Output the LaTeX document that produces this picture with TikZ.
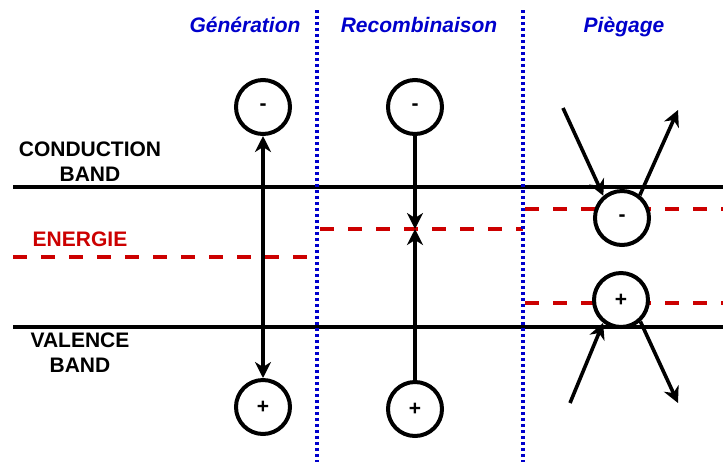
\documentclass[tikz,border=0pt]{standalone}
\usepackage{fontspec}
\setmainfont{Liberation Sans}
\usepackage{tikz}
\usetikzlibrary{arrows.meta}
\definecolor{phaseblue}{RGB}{0,0,204}
\definecolor{levelred}{RGB}{204,0,0}
\tikzset{
	charge/.style={circle, draw, fill=white, line width=2pt, minimum size=27pt, inner sep=0pt, font=\bfseries\fontsize{10.5}{12}\selectfont},
	band/.style={line width=2pt},
	level/.style={levelred, line width=2pt, dash pattern=on 7pt off 7pt},
	sep/.style={phaseblue, line width=1.6pt, dash pattern=on 1.5pt off 1.5pt},
	carrier/.style={line width=1.8pt, >={Stealth[length=8pt, width=8pt, inset=2.5pt]}},
	phase/.style={phaseblue, font=\bfseries\itshape\fontsize{10.5}{12}\selectfont, anchor=base},
	bandname/.style={align=center, font=\bfseries\fontsize{10.5}{12.5}\selectfont}
}

\begin{document}
\begin{tikzpicture}[x=0.5pt, y=-0.5pt]
		\useasboundingbox (0,0) rectangle (723,462);
		
		% bands
		\draw[band] (13,187) -- (723,187);
		\draw[band] (13,327) -- (723,327);
		
		% trap levels
		\draw[level] (13,257) -- (311,257);
		\draw[level] (320,229) -- (523,229);
		\draw[level] (525,209) -- (723,209);
		\draw[level] (525,303) -- (723,303);
		
		% separations
		\draw[sep] (317,10) -- (317,462);
		\draw[sep] (523,10) -- (523,462);
		
		\node[phase] (gen) at (245,32) {Génération};
		\node[phase] (rec) at (419,32) {Recombinaison};
		\node[phase] (pie) at (624,32) {Piègage};
		
		\node[bandname] (cb) at (90,162) {CONDUCTION\\BAND};
		\node[bandname] (vb) at (80,353) {VALENCE\\BAND};
		\node[bandname, levelred] (en) at (80,239) {ENERGIE};
		
		% generation
		\node[charge] (gm) at (263,107) {-};
		\node[charge] (gp) at (263,407) {+};
		\draw[carrier, <->] (gm) -- (gp);
		
		% recombination
		\node[charge] (rm) at (415,107) {-};
		\node[charge] (rp) at (415,409) {+};
		\coordinate (rc) at (415,229);
		\draw[carrier, ->] (rm) -- (rc);
		\draw[carrier, ->] (rp) -- (rc);
		
		% trapping
		\node[charge] (tm) at (622,218) {-};
		\node[charge] (tp) at (621,300) {+};
		\coordinate (tmin) at (563,108);
		\coordinate (tmout) at (678,110);
		\coordinate (tpin) at (570,403);
		\coordinate (tpout) at (678,403);
		\draw[carrier, ->] (tmin) -- (tm.130);
		\draw[carrier, ->] (tm.52) -- (tmout);
		\draw[carrier, ->] (tpin) -- (tp.232);
		\draw[carrier, ->] (tp.312) -- (tpout);
	\end{tikzpicture}
\end{document}
